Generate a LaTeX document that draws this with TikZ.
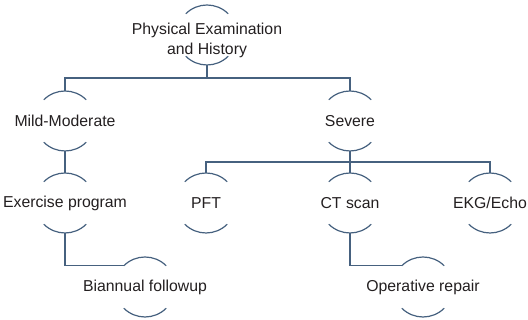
\documentclass[tikz,border=0pt]{standalone}
\usepackage{fontspec}
\setmainfont{Liberation Sans}
\definecolor{linkblue}{HTML}{46617F}
\definecolor{inkgray}{HTML}{231F20}
\begin{document}
\begin{tikzpicture}[x=1pt,y=1pt,
  label/.style={inner sep=0pt, align=center, text=inkgray,
    font=\fontsize{15.8}{20}\selectfont},
  link/.style={draw=linkblue, line width=1.2pt}]
\useasboundingbox (0,0) rectangle (528,320);
\def\rr{30}
% text nodes
\node[label] (top) at (207,280) {Physical Examination\\and History};
\node[label] (mild) at (65,199) {Mild-Moderate};
\node[label] (severe) at (350,199) {Severe};
\node[label] (exer) at (65,117) {Exercise program};
\node[label] (pft) at (206,117) {PFT};
\node[label] (ct) at (350,117) {CT scan};
\node[label] (ekg) at (490,117) {EKG/Echo};
\node[label] (bian) at (145,33) {Biannual followup};
\node[label] (oper) at (423,33) {Operative repair};
% arcs above and below each label, with anchor points for the connectors
\coordinate (topc) at (207,285);
\foreach \n/\c in {top/topc,mild/mild,severe/severe,exer/exer,pft/pft,ct/ct,ekg/ekg,bian/bian,oper/oper}{
  \draw[link] ([shift={(45:\rr)}]\c.center) arc[start angle=45,end angle=135,radius=\rr];
  \draw[link] ([shift={(225:\rr)}]\c.center) arc[start angle=225,end angle=315,radius=\rr];
  \coordinate (\n-t) at ([yshift=\rr]\c.center);
  \coordinate (\n-b) at ([yshift=-\rr]\c.center);
  \coordinate (\n-l) at ([shift={(135:\rr)}]\c.center);
}
\coordinate (bus1) at (0,242);
\coordinate (bus2) at (0,158);
% connectors
\draw[link] (top-b) -- (top-b |- bus1);
\draw[link] (mild-t) -- (mild-t |- bus1) -- (severe-t |- bus1) -- (severe-t);
\draw[link] (mild-b) -- (exer-t);
\draw[link] (severe-b) -- (severe-b |- bus2);
\draw[link] (pft-t) -- (pft-t |- bus2) -- (ekg-t |- bus2) -- (ekg-t);
\draw[link] (ct-t) -- (ct-t |- bus2);
\draw[link] (exer-b) |- (bian-l);
\draw[link] (ct-b) |- (oper-l);
\end{tikzpicture}
\end{document}
